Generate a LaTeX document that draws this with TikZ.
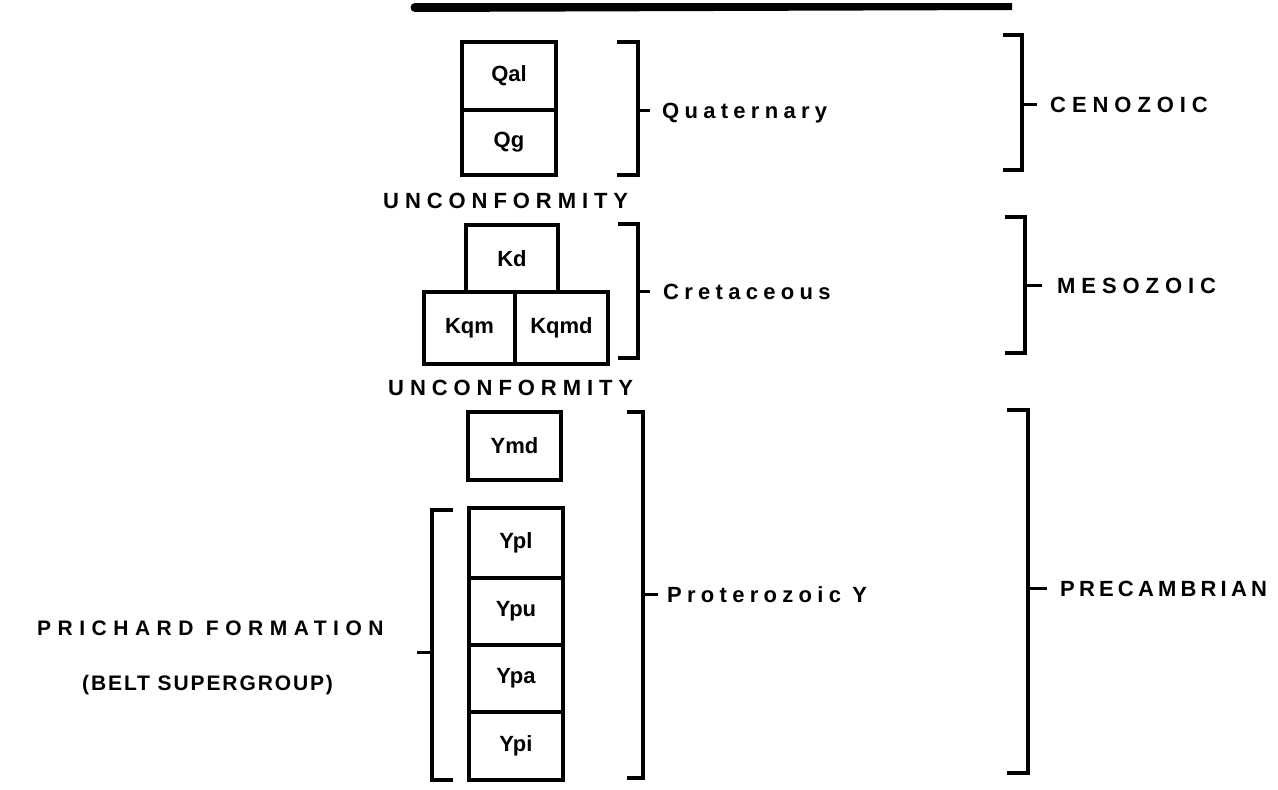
\documentclass[tikz,border=0pt]{standalone}
\usepackage{fontspec}
\setmainfont{Liberation Sans}
\newfontfamily\spA[LetterSpace=27]{Liberation Sans}
\newfontfamily\spB[LetterSpace=24]{Liberation Sans}
\newfontfamily\spC[LetterSpace=31]{Liberation Sans}
\newfontfamily\spD[LetterSpace=9]{Liberation Sans}
\newfontfamily\spE[LetterSpace=19]{Liberation Sans}
\begin{document}
\begin{tikzpicture}[x=1pt,y=-1pt,
  unit/.style={draw,line width=3.2pt,inner sep=0pt,font=\fontsize{22}{26}\selectfont\bfseries},
  brk/.style={line width=3.3pt,line join=miter},
  tick/.style={line width=3pt},
  caplbl/.style={anchor=west,inner sep=0pt,text height=16pt,text depth=0pt,font=\fontsize{22}{26}\selectfont\bfseries\spA},
  mixlbl/.style={anchor=west,inner sep=0pt,text height=16pt,text depth=0pt,font=\fontsize{22}{26}\selectfont\bfseries\spB}]
\useasboundingbox (0,0) rectangle (1278,790);
% top bar
\fill (415,3) -- (1012,3) -- (1012,10) -- (415,12) arc[start angle=270,end angle=90,radius=4.5pt] -- cycle;
% unit boxes
\node[unit,minimum width=94pt,minimum height=68pt] (qal) at (509,76) {Qal};
\node[unit,minimum width=94pt,minimum height=65pt] (qg) at (509,142.5) {Qg};
\node[unit,minimum width=92pt,minimum height=67pt] (kd) at (512,258.5) {Kd};
\node[unit,minimum width=91pt,minimum height=72pt] (kqm) at (469.5,328) {Kqm};
\node[unit,minimum width=93pt,minimum height=72pt] (kqmd) at (561.5,328) {Kqmd};
\node[unit,minimum width=93pt,minimum height=68pt] (ymd) at (514.5,446) {Ymd};
\node[unit,minimum width=94pt,minimum height=70pt] (ypl) at (516,543) {Ypl};
\node[unit,minimum width=94pt,minimum height=67pt] (ypu) at (516,611.5) {Ypu};
\node[unit,minimum width=94pt,minimum height=67pt] (ypa) at (516,678.5) {Ypa};
\node[unit,minimum width=94pt,minimum height=68pt] (ypi) at (516,746) {Ypi};
% unconformities
\node[caplbl] (unc1) at (383,200) {UNCONFORMITY};
\node[caplbl] (unc2) at (388,387) {UNCONFORMITY};
% period labels
\node[mixlbl] (quat) at (662,110) {Quaternary};
\node[mixlbl] (cret) at (663,291) {Cretaceous};
\node[mixlbl] (prot) at (667,594) {Proterozoic Y};
% era labels
\node[caplbl] (ceno) at (1050,104) {CENOZOIC};
\node[caplbl] (meso) at (1057,285) {MESOZOIC};
\node[caplbl,font=\fontsize{22}{26}\selectfont\bfseries\spE] (prec) at (1060,588) {PRECAMBRIAN};
% formation label
\node[anchor=west,inner sep=0pt,text height=15pt,text depth=0pt,font=\fontsize{21}{24}\selectfont\bfseries\spC] (prich) at (37,628) {PRICHARD FORMATION};
\node[anchor=west,inner sep=0pt,text height=15pt,text depth=0pt,font=\fontsize{21}{24}\selectfont\bfseries\spD] (belt) at (82,683) {(BELT SUPERGROUP)};
% brackets
\coordinate (bq) at (638,110);
\draw[brk] (617,42) -- (638,42) -- (638,175) -- (617,175);
\draw[tick] (bq) -- ([xshift=-12pt]quat.west);
\coordinate (bc) at (638,291);
\draw[brk] (618,224) -- (638,224) -- (638,358) -- (618,358);
\draw[tick] (bc) -- ([xshift=-13pt]cret.west);
\coordinate (bp) at (643,594);
\draw[brk] (627,412) -- (643,412) -- (643,778) -- (627,778);
\draw[tick] (bp) -- ([xshift=-9pt]prot.west);
\coordinate (bce) at (1022,104);
\draw[brk] (1003,35) -- (1022,35) -- (1022,170) -- (1003,170);
\draw[tick] (bce) -- ([xshift=-13pt]ceno.west);
\coordinate (bme) at (1025,285);
\draw[brk] (1005,217) -- (1025,217) -- (1025,353) -- (1005,353);
\draw[tick] (bme) -- ([xshift=-15pt]meso.west);
\coordinate (bpr) at (1028,588);
\draw[brk] (1007,410) -- (1028,410) -- (1028,773) -- (1007,773);
\draw[tick] (bpr) -- ([xshift=-13pt]prec.west);
\coordinate (bpf) at (432,652);
\draw[brk] (453,510) -- (432,510) -- (432,780) -- (453,780);
\draw[tick] (bpf) -- (417,652);
\end{tikzpicture}
\end{document}
